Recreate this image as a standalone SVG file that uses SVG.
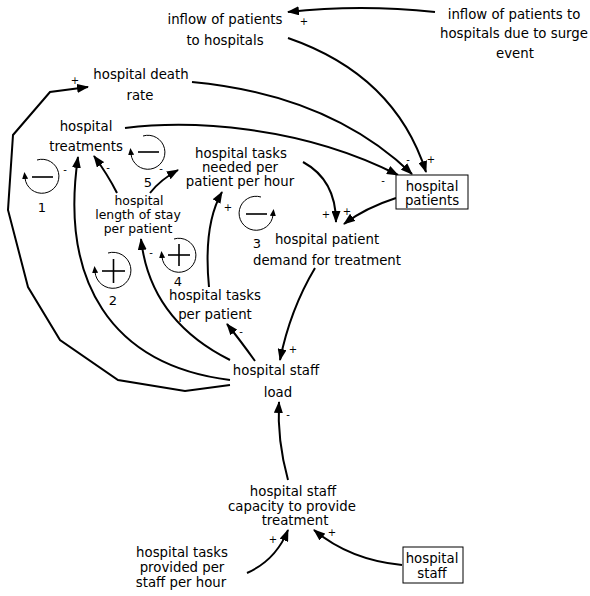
<svg xmlns="http://www.w3.org/2000/svg" width="590" height="596" viewBox="0 0 590 596">
  <defs>
    <style>
      text { font-family: "Comic Sans MS", "DejaVu Sans", sans-serif; fill: #000; }
      .lbl { font-size: 13.3px; text-anchor: middle; }
      .tight { font-size: 12.4px; }
      .pol { font-size: 10px; text-anchor: middle; }
      .num { font-size: 13px; text-anchor: middle; }
      .link { fill: none; stroke: #000; stroke-width: 2; marker-end: url(#arrow); }
      .loop { fill: none; stroke: #000; stroke-width: 1; marker-end: url(#loopArrow); }
      .sign { fill: none; stroke: #000; stroke-width: 1.6; }
      .box { fill: #fff; stroke: #000; stroke-width: 1; }
    </style>
    <marker id="arrow" viewBox="0 0 12 9" refX="11" refY="4.5" markerWidth="12" markerHeight="9" markerUnits="userSpaceOnUse" orient="auto">
      <path d="M0,0 L12,4.5 L0,9 z" fill="#000"/>
    </marker>
    <marker id="loopArrow" viewBox="0 0 7 6" refX="1" refY="3" markerWidth="7" markerHeight="6" markerUnits="userSpaceOnUse" orient="auto">
      <path d="M0,0 L7,3 L0,6 z" fill="#000"/>
    </marker>
  </defs>

  <!-- causal links -->
  <g id="links">
    <path class="link" d="M435,12 Q360,4 288,12"/>
    <path class="link" d="M288,38 Q395,75 426,172"/>
    <path class="link" d="M192,82 Q330,95 412,174"/>
    <path class="link" d="M125,128 C190,120 300,125 398,175"/>
    <path class="link" d="M303,162 Q336,180 336,222"/>
    <path class="link" d="M396,198 Q365,208 344,224"/>
    <path class="link" d="M315,268 Q290,310 280,360"/>
    <path class="link" d="M255,361 Q240,340 227,324"/>
    <path class="link" d="M209,287 Q203,225 222,192"/>
    <path class="link" d="M230,360 Q150,320 141,239"/>
    <path class="link" d="M230,380 C110,365 60,280 78,157"/>
    <path class="link" d="M230,385 L185,391 L118,380 L60,340 L28,287 L8,210 L13,135 L50,92 L88,87"/>
    <path class="link" d="M117,193 Q108,175 94,156"/>
    <path class="link" d="M150,193 Q160,180 178,170"/>
    <path class="link" d="M288,480 Q277,440 279,402"/>
    <path class="link" d="M247,573 Q276,560 288,530"/>
    <path class="link" d="M402,565 Q350,560 314,530"/>
  </g>

  <!-- link polarities -->
  <g id="polarities">
    <text class="pol" x="304" y="25">+</text>
    <text class="pol" x="75" y="84">+</text>
    <text class="pol" x="65" y="173">-</text>
    <text class="pol" x="108" y="171">-</text>
    <text class="pol" x="161" y="172">-</text>
    <text class="pol" x="228" y="211">+</text>
    <text class="pol" x="151" y="256">-</text>
    <text class="pol" x="241" y="335">-</text>
    <text class="pol" x="293" y="353">+</text>
    <text class="pol" x="326" y="218">+</text>
    <text class="pol" x="347" y="215">+</text>
    <text class="pol" x="408" y="163">-</text>
    <text class="pol" x="431" y="163">+</text>
    <text class="pol" x="383" y="184">-</text>
    <text class="pol" x="288" y="418">-</text>
    <text class="pol" x="273" y="543">+</text>
    <text class="pol" x="332" y="536">+</text>
  </g>

  <!-- feedback loop markers -->
  <g id="loop1">
    <path class="loop" d="M37,160 A17,17 0 1 1 25,178"/>
    <line class="sign" x1="32" y1="177" x2="53" y2="177"/>
    <text class="num" x="42" y="212">1</text>
  </g>
  <g id="loop5">
    <path class="loop" d="M143,136 A17,17 0 1 1 131,154"/>
    <line class="sign" x1="138" y1="152" x2="159" y2="152"/>
    <text class="num" x="148" y="187">5</text>
  </g>
  <g id="loop2">
    <path class="loop" d="M108,253 A18,18 0 1 1 95,272"/>
    <line class="sign" x1="102" y1="271" x2="125" y2="271"/>
    <line class="sign" x1="113.5" y1="259" x2="113.5" y2="283"/>
    <text class="num" x="113" y="305">2</text>
  </g>
  <g id="loop4">
    <path class="loop" d="M174,239 A17,17 0 1 1 162,257"/>
    <line class="sign" x1="168" y1="255" x2="190" y2="255"/>
    <line class="sign" x1="179" y1="244" x2="179" y2="266"/>
    <text class="num" x="178" y="286">4</text>
  </g>
  <g id="loop3">
    <path class="loop" d="M261,197 A17,17 0 1 0 273,215"/>
    <line class="sign" x1="246" y1="214" x2="267" y2="214"/>
    <text class="num" x="257" y="248">3</text>
  </g>

  <!-- variables -->
  <g id="inflow-patients">
    <text class="lbl" x="225" y="24">inflow of patients</text>
    <text class="lbl" x="225" y="45">to hospitals</text>
  </g>
  <g id="inflow-surge">
    <text class="lbl" x="514" y="19">inflow of patients to</text>
    <text class="lbl" x="514" y="38">hospitals due to surge</text>
    <text class="lbl" x="515" y="58">event</text>
  </g>
  <g id="death-rate">
    <text class="lbl" x="141" y="79">hospital death</text>
    <text class="lbl" x="140" y="100">rate</text>
  </g>
  <g id="treatments">
    <text class="lbl" x="86" y="131">hospital</text>
    <text class="lbl" x="86" y="151">treatments</text>
  </g>
  <g id="tasks-needed">
    <text class="lbl" x="241" y="158">hospital tasks</text>
    <text class="lbl" x="240" y="172">needed per</text>
    <text class="lbl" x="240" y="186">patient per hour</text>
  </g>
  <g id="length-of-stay">
    <text class="lbl tight" x="139" y="205">hospital</text>
    <text class="lbl tight" x="138" y="219">length of stay</text>
    <text class="lbl tight" x="138" y="233">per patient</text>
  </g>
  <g id="hospital-patients">
    <rect class="box" x="396" y="175" width="72" height="34"/>
    <text class="lbl" x="432" y="191">hospital</text>
    <text class="lbl" x="432" y="205">patients</text>
  </g>
  <g id="patient-demand">
    <text class="lbl" x="327" y="244">hospital patient</text>
    <text class="lbl" x="327" y="265">demand for treatment</text>
  </g>
  <g id="tasks-per-patient">
    <text class="lbl" x="215" y="300">hospital tasks</text>
    <text class="lbl" x="215" y="319">per patient</text>
  </g>
  <g id="staff-load">
    <text class="lbl" x="276" y="375">hospital staff</text>
    <text class="lbl" x="278" y="397">load</text>
  </g>
  <g id="staff-capacity">
    <text class="lbl" x="293" y="496">hospital staff</text>
    <text class="lbl" x="292" y="511">capacity to provide</text>
    <text class="lbl" x="295" y="525">treatment</text>
  </g>
  <g id="tasks-provided">
    <text class="lbl" x="182" y="557">hospital tasks</text>
    <text class="lbl" x="182" y="572">provided per</text>
    <text class="lbl" x="181" y="587">staff per hour</text>
  </g>
  <g id="hospital-staff">
    <rect class="box" x="403" y="547" width="60" height="36"/>
    <text class="lbl" x="432" y="563">hospital</text>
    <text class="lbl" x="432" y="578">staff</text>
  </g>
</svg>
